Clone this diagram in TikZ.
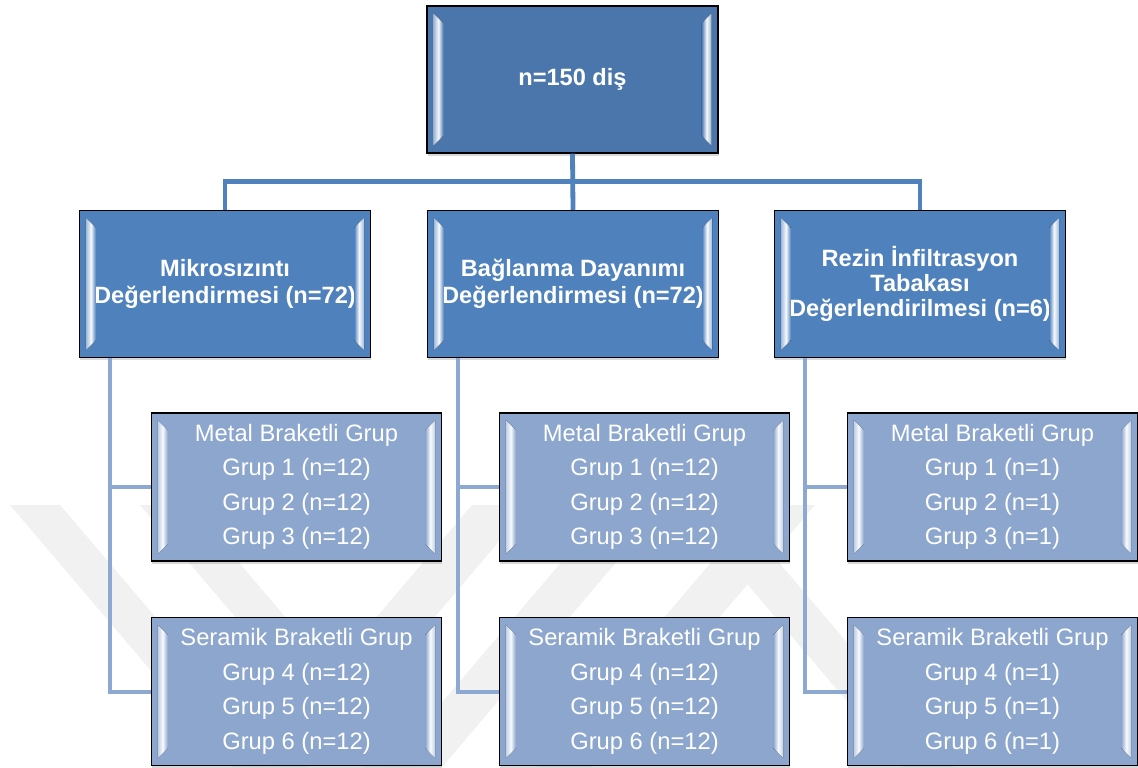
\documentclass[tikz,border=0pt]{standalone}
\usepackage{fontspec}
\setmainfont{Liberation Sans}
\usetikzlibrary{calc,shadows}
\definecolor{topfill}{HTML}{4A76AC}
\definecolor{midfill}{HTML}{4F81BD}
\definecolor{subfill}{HTML}{8CA6CD}
\definecolor{linetop}{HTML}{4F81BD}
\definecolor{linesub}{HTML}{8DA9D2}
\definecolor{wm}{HTML}{F1F1F1}
\tikzset{
  box/.style={draw=black, line width=1.1pt, text=white, align=center, inner sep=0pt,
    drop shadow={shadow xshift=0.6pt, shadow yshift=-2.2pt, opacity=0.3}},
  topbox/.style={box, fill=topfill, minimum width=218pt, minimum height=110.25pt,
    font=\bfseries\fontsize{17.7}{20.25}\selectfont},
  midbox/.style={box, fill=midfill, minimum width=218pt, minimum height=110.25pt,
    font=\bfseries\fontsize{17.7}{20.25}\selectfont},
  subbox/.style={box, fill=subfill, minimum width=217.5pt, minimum height=111pt,
    font=\fontsize{17.8}{25.9}\selectfont},
  topline/.style={draw=linetop, line width=3.6pt},
  subline/.style={draw=linesub, line width=3pt},
  wmband/.style={fill=wm}
}
\newcommand\bevelbox[2]{%
  \fill[left color=white!45!#2, right color=#2, middle color=white!95!#2]
    ($(#1.north west)+(7,8)$) -- ($(#1.north west)+(17,18)$) --
    ($(#1.south west)+(17,-18)$) -- ($(#1.south west)+(7,-8)$) -- cycle;
  \fill[left color=#2, right color=white!45!#2, middle color=white!95!#2]
    ($(#1.north east)+(-7,8)$) -- ($(#1.north east)+(-17,18)$) --
    ($(#1.south east)+(-17,-18)$) -- ($(#1.south east)+(-7,-8)$) -- cycle;
}
\begin{document}
\begin{tikzpicture}[x=0.75pt,y=-0.75pt]
\fill[white] (0,0) rectangle (1138,767);
\useasboundingbox (0,0) rectangle (1138,767);
% watermark
\fill[wmband] (10,505) -- (60,505) -- (283,767) -- (233,767) -- cycle;
\fill[wmband] (140,505) -- (190,505) -- (413,767) -- (363,767) -- cycle;
\fill[wmband] (472,505) -- (530,505) -- (307,767) -- (249,767) -- cycle;
\fill[wmband] (610,505) -- (665,505) -- (442,767) -- (387,767) -- cycle;
\fill[wmband] (760,505) -- (815,505) -- (592,767) -- (537,767) -- cycle;
\fill[wmband] (680,505) -- (730,505) -- (953,767) -- (903,767) -- cycle;
% nodes
\node[topbox] (T) at (572.5,79.5) {n=150 diş};
\node[midbox] (M1) at (225,284) {Mikrosızıntı\\Değerlendirmesi (n=72)};
\node[midbox] (M2) at (573,284) {Bağlanma Dayanımı\\Değerlendirmesi (n=72)};
\node[midbox] (M3) at (920,284) {Rezin İnfiltrasyon\\[-1.5pt]Tabakası\\[-1.5pt]Değerlendirilmesi (n=6)};
\node[subbox] (A1) at (296.5,487) {Metal Braketli Grup\\Grup 1 (n=12)\\Grup 2 (n=12)\\Grup 3 (n=12)};
\node[subbox] (A2) at (296.5,691.5) {Seramik Braketli Grup\\Grup 4 (n=12)\\Grup 5 (n=12)\\Grup 6 (n=12)};
\node[subbox] (B1) at (644.5,487) {Metal Braketli Grup\\Grup 1 (n=12)\\Grup 2 (n=12)\\Grup 3 (n=12)};
\node[subbox] (B2) at (644.5,691.5) {Seramik Braketli Grup\\Grup 4 (n=12)\\Grup 5 (n=12)\\Grup 6 (n=12)};
\node[subbox] (C1) at (992.5,487) {Metal Braketli Grup\\Grup 1 (n=1)\\Grup 2 (n=1)\\Grup 3 (n=1)};
\node[subbox] (C2) at (992.5,691.5) {Seramik Braketli Grup\\Grup 4 (n=1)\\Grup 5 (n=1)\\Grup 6 (n=1)};
% bevels
\bevelbox{T}{topfill}
\bevelbox{M1}{midfill}
\bevelbox{M2}{midfill}
\bevelbox{M3}{midfill}
\bevelbox{A1}{subfill}
\bevelbox{A2}{subfill}
\bevelbox{B1}{subfill}
\bevelbox{B2}{subfill}
\bevelbox{C1}{subfill}
\bevelbox{C2}{subfill}
% connectors
\coordinate (bar) at ($(T.south)!0.5!(M2.north)$);
\draw[topline] (T.south) -- (M2.north);
\draw[topline] (M1.north) |- (bar) -| (M3.north);
\coordinate (s1) at ($(M1.south west)!0.105!(M1.south east)$);
\coordinate (s2) at ($(M2.south west)!0.105!(M2.south east)$);
\coordinate (s3) at ($(M3.south west)!0.105!(M3.south east)$);
\draw[subline] (s1) |- (A1.west);
\draw[subline] (s1) |- (A2.west);
\draw[subline] (s2) |- (B1.west);
\draw[subline] (s2) |- (B2.west);
\draw[subline] (s3) |- (C1.west);
\draw[subline] (s3) |- (C2.west);
\end{tikzpicture}
\end{document}
